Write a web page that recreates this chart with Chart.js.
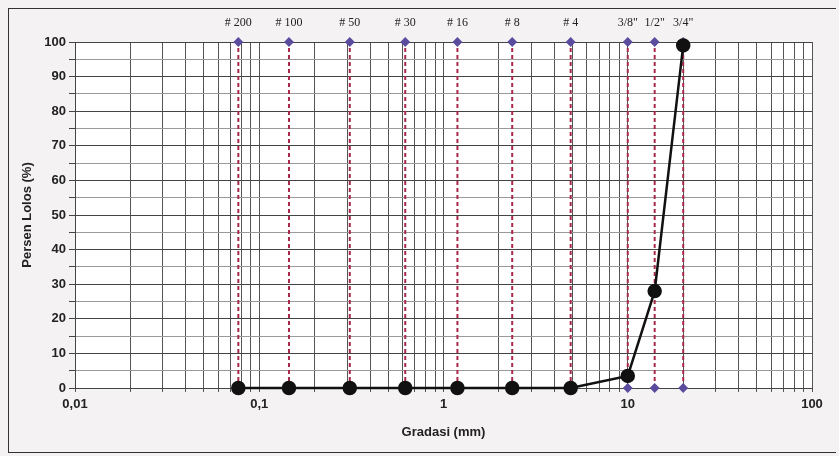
<!DOCTYPE html>
<html>
<head>
<meta charset="utf-8">
<script src="https://cdn.jsdelivr.net/npm/chart.js@4"></script>
<style>
  html, body { margin: 0; padding: 0; background: #f4f2f2; }
  #wrap { position: relative; width: 839px; height: 456px; }
  #frame { position: absolute; left: 8px; top: 8px; width: 828px; height: 445px; border: 1px solid #333; border-right: none; box-sizing: border-box; }
  canvas { position: absolute; left: 0; top: 0; }
</style>
</head>
<body>
<div id="wrap">
  <div id="frame"></div>
  <canvas id="grad" width="839" height="456"></canvas>
</div>
<script>
// sieve openings (mm, as placed on the chart) and their names, printed above the plot
const sieveLabels = ["# 200", "# 100", "# 50", "# 30", "# 16", "# 8", "# 4", "3/8\"", "1/2\"", "3/4\""];
const sieveSizes = [0.077, 0.145, 0.31, 0.62, 1.19, 2.36, 4.9, 10, 14, 20];
// percent passing
const percentPassing = [0, 0, 0, 0, 0, 0, 0, 3.5, 28, 99];

// log axis: one labelled line per decade, plain grid lines for 2..9
const decades = [0.01, 0.1, 1, 10, 100];
const decadeLabels = ["0,01", "0,1", "1", "10", "100"];
const mantissas = [1, 2, 3, 4, 5, 6, 7, 8, 9];
const yTicks = [0, 5, 10, 15, 20, 25, 30, 35, 40, 45, 50, 55, 60, 65, 70, 75, 80, 85, 90, 95, 100];

const xGridValues = [];
decades.slice(0, -1).forEach((d) => mantissas.forEach((m) => xGridValues.push(+(d * m).toPrecision(3))));
xGridValues.push(100);

const isDecade = (v) => decades.findIndex((d) => Math.abs(v - d) / d < 1e-6);

const chartBg = {
  id: "chartBg",
  beforeDraw(chart) {
    const { ctx, chartArea: a } = chart;
    ctx.save();
    ctx.fillStyle = "#ffffff";
    ctx.fillRect(a.left, a.top, a.right - a.left, a.bottom - a.top);
    ctx.restore();
  },
};

const sieveSets = sieveSizes.map((s) => ({
  data: [{ x: s, y: 0 }, { x: s, y: 100 }],
  showLine: true,
  borderColor: "#a8284a",
  borderWidth: 2,
  borderDash: [4, 3],
  pointStyle: "rectRot",
  pointRadius: 3.5,
  pointBackgroundColor: "#5b4c9e",
  pointBorderColor: "#5b4c9e",
  clip: false,
}));

const sans = "Liberation Sans";

new Chart(document.getElementById("grad"), {
  type: "scatter",
  data: {
    datasets: [
      {
        data: sieveSizes.map((s, i) => ({ x: s, y: percentPassing[i] })),
        showLine: true,
        borderColor: "#111",
        borderWidth: 2.5,
        pointRadius: 6,
        pointBackgroundColor: "#111",
        pointBorderColor: "#111",
        clip: false,
      },
      ...sieveSets,
    ],
  },
  options: {
    responsive: false,
    animation: false,
    layout: { padding: { left: 0, right: 27, top: 0, bottom: 16 } },
    plugins: { legend: { display: false }, tooltip: { enabled: false } },
    scales: {
      x: {
        type: "logarithmic",
        min: 0.01,
        max: 100,
        afterBuildTicks: (s) => { s.ticks = xGridValues.map((v) => ({ value: v })); },
        afterFit: (s) => { s.height = 52; },
        ticks: {
          autoSkip: false,
          maxRotation: 0,
          padding: 5,
          color: "#222",
          font: { family: sans, size: 13, weight: "bold" },
          callback: (v) => { const i = isDecade(v); return i >= 0 ? decadeLabels[i] : ""; },
        },
        grid: { color: "#555", lineWidth: 1, tickLength: 4 },
        border: { color: "#444" },
        title: {
          display: true,
          text: "Gradasi (mm)",
          color: "#222",
          font: { family: sans, size: 13, weight: "bold" },
          padding: { top: 4, bottom: 0 },
        },
      },
      x2: {
        type: "logarithmic",
        position: "top",
        min: 0.01,
        max: 100,
        afterBuildTicks: (s) => { s.ticks = sieveSizes.map((v) => ({ value: v })); },
        afterFit: (s) => { s.height = 42; },
        ticks: {
          autoSkip: false,
          maxRotation: 0,
          padding: 12,
          color: "#222",
          font: { family: "Liberation Serif", size: 12 },
          callback: (v) => sieveLabels[sieveSizes.indexOf(v)],
        },
        grid: { display: false, drawTicks: false },
        border: { display: false },
      },
      y: {
        min: 0,
        max: 100,
        afterBuildTicks: (s) => { s.ticks = yTicks.map((v) => ({ value: v })); },
        afterFit: (s) => { s.width = 75; },
        ticks: {
          autoSkip: false,
          padding: 3,
          color: "#222",
          font: { family: sans, size: 13, weight: "bold" },
          callback: (v) => (v % 10 === 0 ? v : ""),
        },
        grid: {
          color: (c) => (c.tick && c.tick.value % 10 === 0 ? "#444" : "#9a9a9a"),
          tickColor: "#444",
          tickLength: 6,
        },
        border: { color: "#444" },
        title: {
          display: true,
          text: "Persen Lolos (%)",
          color: "#222",
          font: { family: sans, size: 13, weight: "bold" },
          padding: { top: 20, bottom: 0 },
        },
      },
    },
  },
  plugins: [chartBg],
});
</script>
</body>
</html>
